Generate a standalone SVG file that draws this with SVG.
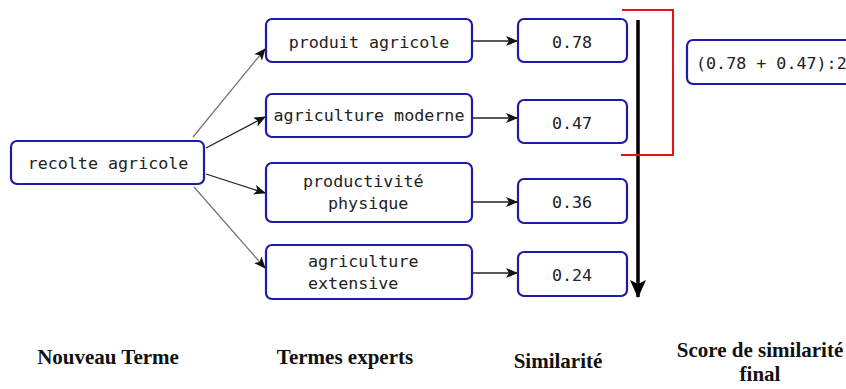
<svg xmlns="http://www.w3.org/2000/svg" width="846" height="389" viewBox="0 0 846 389">
<style>
.box{fill:#fff;stroke:#1c1ca8;stroke-width:2.2}
.t{font-family:"DejaVu Sans Mono",monospace;font-size:16.7px;fill:#222}
.lbl{font-family:"Liberation Serif","Times New Roman",serif;font-weight:bold;font-size:21px;fill:#111;text-anchor:middle}
.c{fill:none;stroke-width:1.3}
</style>
<defs>
<marker id="ah" viewBox="0 0 12 10" refX="11" refY="5" markerWidth="12" markerHeight="10" markerUnits="userSpaceOnUse" orient="auto">
<path d="M0,0 L12,5 L0,10 L3,5 Z" fill="#111"/>
</marker>
<marker id="big" viewBox="0 0 18 16" refX="17" refY="8" markerWidth="18" markerHeight="16" markerUnits="userSpaceOnUse" orient="auto">
<path d="M0,0 L18,8 L0,16 L4,8 Z" fill="#000"/>
</marker>
</defs>
<g id="connectors">
<line class="c" x1="193" y1="137" x2="265" y2="49" stroke="#777" marker-end="url(#ah)"/>
<line class="c" x1="206" y1="148" x2="265" y2="117" stroke="#222" marker-end="url(#ah)"/>
<line class="c" x1="206" y1="174" x2="265" y2="193" stroke="#222" marker-end="url(#ah)"/>
<line class="c" x1="194" y1="187" x2="265" y2="268" stroke="#777" marker-end="url(#ah)"/>
<line class="c" x1="472" y1="41" x2="517" y2="41" stroke="#222" marker-end="url(#ah)"/>
<line class="c" x1="472" y1="118" x2="517" y2="118" stroke="#222" marker-end="url(#ah)"/>
<line class="c" x1="472" y1="202" x2="517" y2="202" stroke="#222" marker-end="url(#ah)"/>
<line class="c" x1="469" y1="273" x2="517" y2="273" stroke="#222" marker-end="url(#ah)"/>
<line x1="638" y1="20" x2="638" y2="297" stroke="#000" stroke-width="3.5" marker-end="url(#big)"/>
<polyline points="622,10 673,10 673,155 621,155" fill="none" stroke="#e81010" stroke-width="2"/>
</g>
<g id="n-recolte">
<rect class="box" x="11" y="141" width="193" height="43" rx="6"/>
<text class="t" x="108" y="169" text-anchor="middle">recolte agricole</text>
</g>
<g id="n-produit">
<rect class="box" x="266" y="19" width="206" height="43" rx="6"/>
<text class="t" x="369" y="48" text-anchor="middle">produit agricole</text>
</g>
<g id="n-moderne">
<rect class="box" x="266" y="94" width="206" height="43" rx="6"/>
<text class="t" x="369" y="121" text-anchor="middle">agriculture moderne</text>
</g>
<g id="n-productivite">
<rect class="box" x="266" y="163" width="206" height="59" rx="6"/>
<text class="t" x="303" y="187">productivité</text>
<text class="t" x="328" y="209">physique</text>
</g>
<g id="n-extensive">
<rect class="box" x="266" y="245" width="206" height="54" rx="6"/>
<text class="t" x="308" y="267">agriculture</text>
<text class="t" x="308" y="289">extensive</text>
</g>
<g id="s-078">
<rect class="box" x="518" y="19" width="109" height="43" rx="6"/>
<text class="t" x="572" y="48" text-anchor="middle">0.78</text>
</g>
<g id="s-047">
<rect class="box" x="518" y="100" width="109" height="43" rx="6"/>
<text class="t" x="572" y="129" text-anchor="middle">0.47</text>
</g>
<g id="s-036">
<rect class="box" x="518" y="179" width="109" height="44" rx="6"/>
<text class="t" x="572" y="208" text-anchor="middle">0.36</text>
</g>
<g id="s-024">
<rect class="box" x="518" y="252" width="109" height="44" rx="6"/>
<text class="t" x="572" y="281" text-anchor="middle">0.24</text>
</g>
<g id="final">
<rect class="box" x="687" y="40" width="180" height="44" rx="6"/>
<text class="t" x="696" y="69">(0.78 + 0.47):2</text>
</g>
<g id="labels">
<text class="lbl" x="108" y="364">Nouveau Terme</text>
<text class="lbl" x="345" y="364">Termes experts</text>
<text class="lbl" x="558" y="368">Similarité</text>
<text class="lbl" x="760" y="357">Score de similarité</text>
<text class="lbl" x="760" y="381">final</text>
</g>
</svg>
